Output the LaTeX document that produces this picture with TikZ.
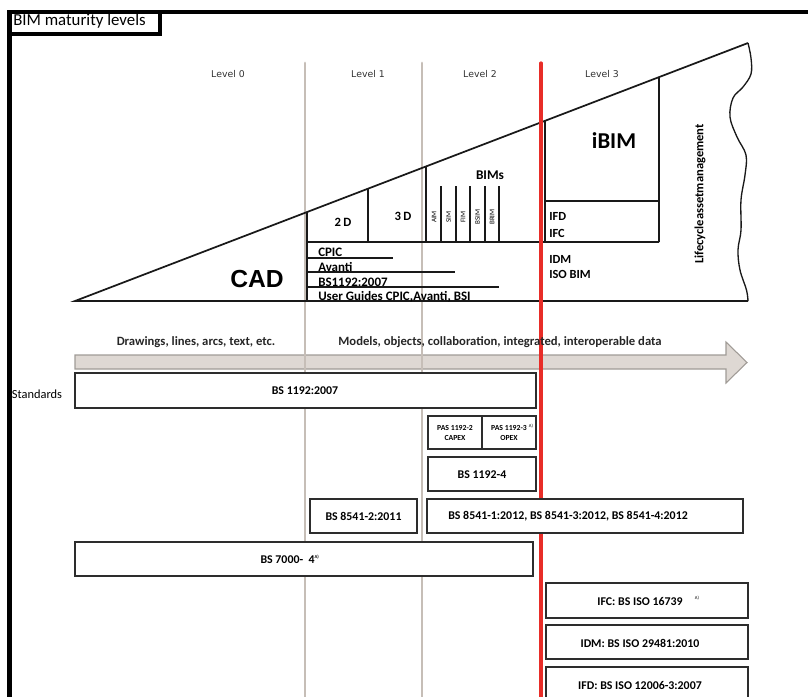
\documentclass[tikz,border=0pt]{standalone}
\usepackage{fontspec}
\setmainfont{Carlito}
\newfontfamily\cadfont{Liberation Sans}
\newfontfamily\lvfont{DejaVu Sans}
\usetikzlibrary{fit,calc}
\definecolor{lvgray}{RGB}{198,190,183}
\definecolor{lvred}{RGB}{232,45,40}
\definecolor{arrfill}{RGB}{222,216,211}
\definecolor{arrdraw}{RGB}{160,155,150}
\definecolor{boxdraw}{RGB}{45,45,45}
\tikzset{
  stdbox/.style={draw=boxdraw, line width=1.2pt, fill=white, inner sep=0pt},
  stdtxt/.style={font=\bfseries\fontsize{8.9}{10}\selectfont, inner sep=0pt},
  paslbl/.style={font=\bfseries\fontsize{5.8}{6.8}\selectfont, align=center, inner sep=0pt},
  suptxt/.style={font=\fontsize{3.5}{4}\selectfont, inner sep=0pt},
  lvl/.style={font=\lvfont\fontsize{7}{8}\selectfont, text=black!80, inner sep=0pt},
  divgray/.style={draw=lvgray, line width=2.2pt, line cap=round},
  divred/.style={draw=lvred, line width=2.4pt, line cap=round},
  outl/.style={draw=black!90, line width=1.3pt},
  thin/.style={draw=black!90, line width=0.8pt},
  frameln/.style={draw=black, line width=3.2pt},
  inner/.style={font=\bfseries\fontsize{9.3}{10}\selectfont, inner sep=0pt, anchor=west},
  l1txt/.style={font=\bfseries\fontsize{9.7}{10}\selectfont, inner sep=0pt, anchor=west},
  tiny/.style={font=\fontsize{5.3}{6}\selectfont, inner sep=0pt, rotate=90},
  arrtxt/.style={font=\bfseries\fontsize{9.5}{10}\selectfont, text=black!85, inner sep=0pt}
}
\begin{document}
\begin{tikzpicture}[x=0.75pt,y=-0.75pt]
\useasboundingbox (0,0) rectangle (808,697);
% frame
\draw[frameln] (7,12) -- (808,12);
\draw[frameln, line width=3.8pt] (9.5,10.5) -- (9.5,697);
\draw[frameln] (160,11) -- (160,34) -- (8,34);
\node[anchor=west, font=\fontsize{12.6}{13}\selectfont, inner sep=0pt] (title) at (13,21) {BIM maturity levels};

% arrow
\draw[draw=arrdraw, fill=arrfill, line width=0.8pt]
  (75,355) coordinate (arrL) -- (726,355) -- (726,342) -- (747,362.5) coordinate (arrTip) -- (726,383) -- (726,369) -- (75,369) -- cycle;

% level dividers
\coordinate (g1t) at (305,63); \coordinate (g1b) at (305,697);
\coordinate (g2t) at (422,63); \coordinate (g2b) at (422,697);
\coordinate (rt) at (541,63);  \coordinate (rb) at (541,697);
\draw[divgray] (g1t) -- (g1b);
\draw[divgray] (g2t) -- (g2b);

% level labels
\node[lvl] (lv0) at (228,74) {Level 0};
\node[lvl] (lv1) at (368,74) {Level 1};
\node[lvl] (lv2) at (480,74) {Level 2};
\node[lvl] (lv3) at (602,74) {Level 3};

% triangle
\coordinate (tl) at (75,301);
\coordinate (tr) at (748,43);
\coordinate (br) at (748,301);
\draw[outl] (br) -- (tl) -- (tr);
\draw[outl, line width=1pt] plot[smooth, tension=0.6] coordinates {(748,43) (751,58) (751,74) (743,87) (733,98) (730,117) (737,137) (746,155) (745,175) (741,200) (741,230) (738,250) (740,270) (746.5,290) (748,301)};

% inner structure
\coordinate (d307) at ($(tl)!{232/673}!(tr)$);
\coordinate (d368) at ($(tl)!{293/673}!(tr)$);
\coordinate (d426) at ($(tl)!{351/673}!(tr)$);
\coordinate (d545) at ($(tl)!{470/673}!(tr)$);
\coordinate (d659) at ($(tl)!{584/673}!(tr)$);
\draw[outl] (d307) -- (307,301);
\draw[outl] (d368) -- (368,242);
\draw[outl] (d426) -- (426,242);
\draw[outl] (d545) -- (545,242);
\draw[outl] (d659) -- (659,242);
\draw[outl] (307,242) -- (659,242);
\draw[outl] (545,201) -- (659,201);
\foreach \xx in {441,456,470,485,499} \draw[thin] (\xx,186) -- (\xx,242);

% level 1 lines
\draw[thin] (307,258) -- (393,258);
\draw[thin] (307,272) -- (455,272);
\draw[thin] (307,287) -- (499,287);

\node[font=\cadfont\bfseries\fontsize{18.5}{20}\selectfont, inner sep=0pt] (cad) at (257,279) {CAD};
\node[font=\bfseries\fontsize{9.5}{10}\selectfont, inner sep=0pt] (d2) at (343,222) {2\,D};
\node[font=\bfseries\fontsize{9.5}{10}\selectfont, inner sep=0pt] (d3) at (403,216) {3\,D};
\node[font=\bfseries\fontsize{10}{11}\selectfont, inner sep=0pt] (bims) at (490,175) {BIMs};
\node[tiny] (aim) at (434,217) {AIM};
\node[tiny] (sim) at (448.5,217) {SIM};
\node[tiny] (fim) at (463,217) {FIM};
\node[tiny] (bsim) at (477.5,217) {BSIM};
\node[tiny] (brim) at (492,217) {BRIM};
\node[font=\bfseries\fontsize{17}{18}\selectfont, inner sep=0pt] (ibim) at (614,141) {iBIM};
\node[inner] (ifd) at (549,216) {IFD};
\node[inner] (ifc) at (549,233) {IFC};
\node[inner] (idm) at (549,259) {IDM};
\node[inner] (isobim) at (549,274) {ISO BIM};
\node[l1txt] (cpic) at (318,252) {CPIC};
\node[l1txt] (avanti) at (318,267) {Avanti};
\node[l1txt] (bs1192t) at (318,282) {BS1192:2007};
\node[l1txt] (guides) at (318,296.5) {User Guides CPIC,Avanti, BSI};
\node[font=\bfseries\fontsize{9.4}{10}\selectfont, rotate=90, inner sep=0pt] (life) at (700,194) {Lifecycleassetmanagement};

% red divider on top
\draw[divred] (rt) -- (rb);

% arrow labels
\node[arrtxt] (draw0) at (196,342) {Drawings, lines, arcs, text, etc.};
\node[arrtxt] (models) at (500,342) {Models, objects, collaboration, integrated, interoperable data};

% standards
\node[font=\fontsize{9.3}{10}\selectfont, inner sep=0pt] (standards) at (37,394) {Standards};
\node[stdbox, fit={(75,373) (536,408)}] (b1192) {};
\node[stdtxt] (t1192) at (305,391) {BS 1192:2007};

\node[stdbox, fit={(428,416) (482,449)}] (bpas2) {};
\node[stdbox, fit={(482,416) (536,449)}] (bpas3) {};
\node[paslbl] (tpas2) at (455,433) {PAS 1192-2\\CAPEX};
\node[paslbl] (tpas3) at (509,433) {PAS 1192-3\\OPEX};
\node[suptxt] (spas3) at (531,426) {A)};

\node[stdbox, fit={(428,457) (536,491)}] (b11924) {};
\node[stdtxt] (t11924) at (482,475) {BS 1192-4};

\node[stdbox, fit={(310,499) (417,533)}] (b85412) {};
\node[stdtxt] (t85412) at (363.5,516) {BS 8541-2:2011};
\node[stdbox, fit={(427,499) (743,533)}] (b8541) {};
\node[stdtxt] (t8541) at (568,516) {BS 8541-1:2012, BS 8541-3:2012, BS 8541-4:2012};

\node[stdbox, fit={(75,542) (533,576)}] (b7000) {};
\node[stdtxt] (t7000) at (290,559) {BS 7000-\ \ 4\textsuperscript{\fontsize{3.5}{4}\selectfont A)}};

\node[stdbox, fit={(546,583) (748,618)}] (bifc) {};
\node[stdtxt] (tifc) at (640,601) {IFC: BS ISO 16739};
\node[suptxt] (sifc) at (697,598) {A)};
\node[stdbox, fit={(546,625) (748,659)}] (bidm) {};
\node[stdtxt] (tidm) at (640,643) {IDM: BS ISO 29481:2010};
\node[stdbox, fit={(546,667) (748,705)}] (bifd) {};
\node[stdtxt] (tifd) at (640,685) {IFD: BS ISO 12006-3:2007};
\end{tikzpicture}
\end{document}
